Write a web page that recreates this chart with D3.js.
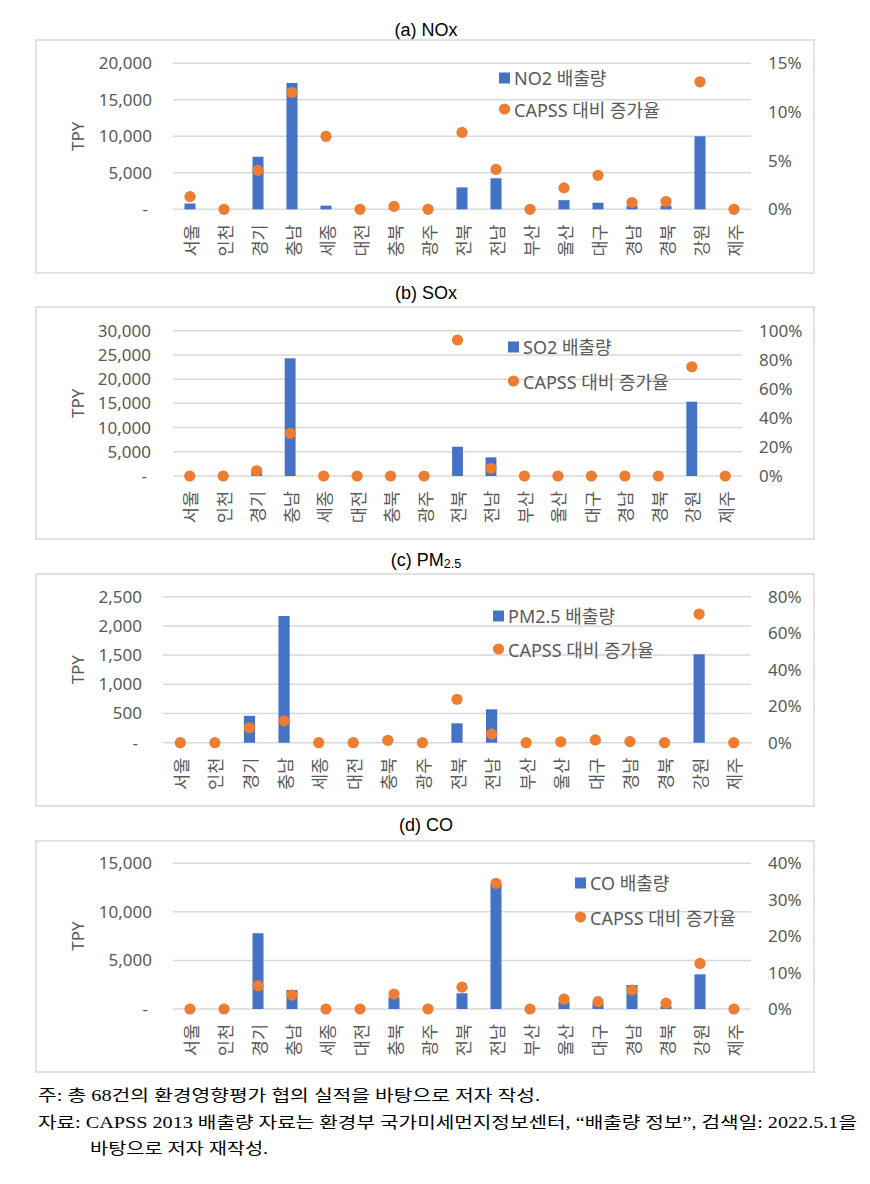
<!DOCTYPE html>
<html><head><meta charset="utf-8">
<script src="https://cdn.jsdelivr.net/npm/d3@7"></script>
<style>
body{margin:0;background:#fff;}
svg{display:block;}
</style></head>
<body>
<svg id="c" width="870" height="1184"></svg>
<script>
const regions = ['서울','인천','경기','충남','세종','대전','충북','광주','전북','전남','부산','울산','대구','경남','경북','강원','제주'];

const noxTPY  = [800,0,7200,17300,500,0,100,0,3000,4250,0,1250,900,500,500,10000,0];
const noxRate = [1.3,0,4.0,12.0,7.5,0,0.3,0,7.9,4.1,0,2.2,3.5,0.7,0.8,13.1,0];

const soxTPY  = [0,0,800,24300,0,0,0,0,6050,3850,0,0,0,0,0,15350,0];
const soxRate = [0,0,3.6,29.4,0,0,0,0,93.6,5.3,0,0,0,0,0,75.2,0];

const pmTPY   = [0,0,460,2170,0,0,10,0,332,572,0,5,10,5,0,1514,0];
const pmRate  = [0,0,8.2,12.0,0,0,1.3,0,23.8,4.8,0,0.5,1.5,0.6,0,70.5,0];

const coTPY   = [0,0,7800,1960,0,0,1200,0,1620,12900,0,750,590,2470,300,3570,0];
const coRate  = [0,0,6.4,3.8,0,0,4.1,0,6.0,34.5,0,2.7,2.0,5.2,1.6,12.5,0];

const leftTicksNOx = [0,5000,10000,15000,20000];
const rightTicksNOx = [0,5,10,15];
const leftTicksSOx = [0,5000,10000,15000,20000,25000,30000];
const rightTicksSOx = [0,20,40,60,80,100];
const leftTicksPM = [0,500,1000,1500,2000,2500];
const rightTicksPM = [0,20,40,60,80];
const leftTicksCO = [0,5000,10000,15000];
const rightTicksCO = [0,10,20,30,40];

const barLegend = ['NO2 배출량','SO2 배출량','PM2.5 배출량','CO 배출량'];
const dotLegend = 'CAPSS 대비 증가율';
const yTitle = 'TPY';
const notes = ['주: 총 68건의 환경영향평가 협의 실적을 바탕으로 저자 작성.',
  '자료: CAPSS 2013 배출량 자료는 환경부 국가미세먼지정보센터, “배출량 정보”, 검색일: 2022.5.1을',
  '바탕으로 저자 재작성.'];

const BAR = '#4472C4', DOT = '#ED7D31', GRID = '#D9D9D9', TXT = '#595959';
const FONT = "'Noto Sans','Noto Sans CJK KR',sans-serif";
const KFONT = "'Noto Sans CJK KR',sans-serif";

const panels = [
  {title:'(a)  NOx', sub:null, titleY:30, boxTop:40, boxBottom:273, yTop:63.3, y0:209.3, left:173, right:751,
   lt:leftTicksNOx, rt:rightTicksNOx, labelEnd:152, rightX:768, tpy:noxTPY, rate:noxRate, leg:barLegend[0],
   lx:499, ly1:78, ly2:109},
  {title:'(b)  SOx', sub:null, titleY:293, boxTop:307, boxBottom:539, yTop:330.7, y0:476, left:173, right:742,
   lt:leftTicksSOx, rt:rightTicksSOx, labelEnd:151, rightX:759, tpy:soxTPY, rate:soxRate, leg:barLegend[1],
   lx:508, ly1:347, ly2:381},
  {title:'(c)  PM', sub:'2.5', titleY:560, boxTop:574, boxBottom:806, yTop:596.7, y0:742.7, left:163, right:751,
   lt:leftTicksPM, rt:rightTicksPM, labelEnd:142, rightX:768, tpy:pmTPY, rate:pmRate, leg:barLegend[2],
   lx:493, ly1:616, ly2:649},
  {title:'(d)  CO', sub:null, titleY:825, boxTop:841, boxBottom:1072, yTop:863.3, y0:1009, left:173, right:751,
   lt:leftTicksCO, rt:rightTicksCO, labelEnd:152, rightX:768, tpy:coTPY, rate:coRate, leg:barLegend[3],
   lx:575, ly1:883, ly2:917}
];

const svg = d3.select('#c');
const fmt = d3.format(',');

panels.forEach(p => {
  const g = svg.append('g');
  // title
  const t = g.append('text').attr('x', 426).attr('y', p.titleY).attr('text-anchor','middle')
    .attr('dominant-baseline','central').attr('font-family',"'Liberation Sans',Arial,sans-serif")
    .attr('font-size',18).attr('fill','#000').text(p.title);
  if (p.sub) t.append('tspan').attr('font-size',12.5).attr('dy',4).text(p.sub);

  // box
  g.append('rect').attr('x',36).attr('y',p.boxTop).attr('width',778).attr('height',p.boxBottom-p.boxTop)
    .attr('fill','none').attr('stroke',GRID).attr('stroke-width',1.5);

  const x = d3.scaleBand().domain(regions).range([p.left,p.right]).paddingInner(0.676).paddingOuter(0.338);
  const yl = d3.scaleLinear().domain([0, d3.max(p.lt)]).range([p.y0, p.yTop]);
  const yr = d3.scaleLinear().domain([0, d3.max(p.rt)]).range([p.y0, p.yTop]);

  // gridlines
  g.append('g').selectAll('line').data(p.lt).join('line')
    .attr('x1',p.left).attr('x2',p.right).attr('y1',d=>yl(d)).attr('y2',d=>yl(d))
    .attr('stroke',GRID).attr('stroke-width',1.5);

  // left axis labels
  const la = d3.axisLeft(yl).tickValues(p.lt).tickSize(0).tickPadding(0).tickFormat(d => d===0 ? '-' : fmt(d));
  const lg = g.append('g').attr('transform',`translate(${p.labelEnd},0)`).call(la);
  lg.select('.domain').remove();
  lg.selectAll('text').attr('font-family',FONT).attr('font-size',17).attr('fill',TXT)
    .attr('dx', d => d===0 ? -4 : 0);

  // right axis labels
  const ra = d3.axisRight(yr).tickValues(p.rt).tickSize(0).tickPadding(0).tickFormat(d => d + '%');
  const rg = g.append('g').attr('transform',`translate(${p.rightX},0)`).call(ra);
  rg.select('.domain').remove();
  rg.selectAll('text').attr('font-family',FONT).attr('font-size',17).attr('fill',TXT);

  // y title
  g.append('text').attr('transform',`translate(77,${(p.y0+p.yTop)/2}) rotate(-90)`)
    .attr('text-anchor','middle').attr('dominant-baseline','central')
    .attr('font-family',FONT).attr('font-size',17).attr('fill',TXT).text(yTitle);

  // bars
  g.append('g').selectAll('rect').data(regions).join('rect')
    .attr('x', d => x(d)).attr('width', x.bandwidth())
    .attr('y', (d,i) => yl(p.tpy[i])).attr('height', (d,i) => p.y0 - yl(p.tpy[i]))
    .attr('fill', BAR);

  // dots
  g.append('g').selectAll('circle').data(regions).join('circle')
    .attr('cx', d => x(d) + x.bandwidth()/2).attr('cy', (d,i) => yr(p.rate[i]))
    .attr('r', 5.6).attr('fill', DOT);

  // x labels
  g.append('g').selectAll('text').data(regions).join('text')
    .attr('transform', d => `translate(${x(d)+x.bandwidth()/2},${p.y0+15}) rotate(-90)`)
    .attr('text-anchor','end').attr('dominant-baseline','central')
    .attr('font-family',KFONT).attr('font-size',17.5).attr('fill',TXT).text(d => d);

  // legend
  g.append('rect').attr('x',p.lx).attr('y',p.ly1-5.5).attr('width',11).attr('height',11).attr('fill',BAR);
  g.append('text').attr('x',p.lx+15).attr('y',p.ly1).attr('dominant-baseline','central')
    .attr('font-family',FONT).attr('font-size',18).attr('fill',TXT).text(p.leg);
  g.append('circle').attr('cx',p.lx+5.5).attr('cy',p.ly2).attr('r',5.6).attr('fill',DOT);
  g.append('text').attr('x',p.lx+15).attr('y',p.ly2+1).attr('dominant-baseline','central')
    .attr('font-family',FONT).attr('font-size',18).attr('fill',TXT).text(dotLegend);
});

// footnotes
const noteX = [38, 38, 90], noteY = [1095, 1122, 1148], noteW = [502, 819, 178];
svg.append('g').selectAll('text').data(notes).join('text')
  .attr('x',(d,i)=>noteX[i]).attr('y',(d,i)=>noteY[i]).attr('dominant-baseline','central')
  .attr('font-family',"'Liberation Serif','Noto Sans CJK KR',serif").attr('font-size',16).attr('fill','#000')
  .attr('textLength',(d,i)=>noteW[i]).attr('lengthAdjust','spacingAndGlyphs')
  .text(d=>d);
</script>
</body></html>
